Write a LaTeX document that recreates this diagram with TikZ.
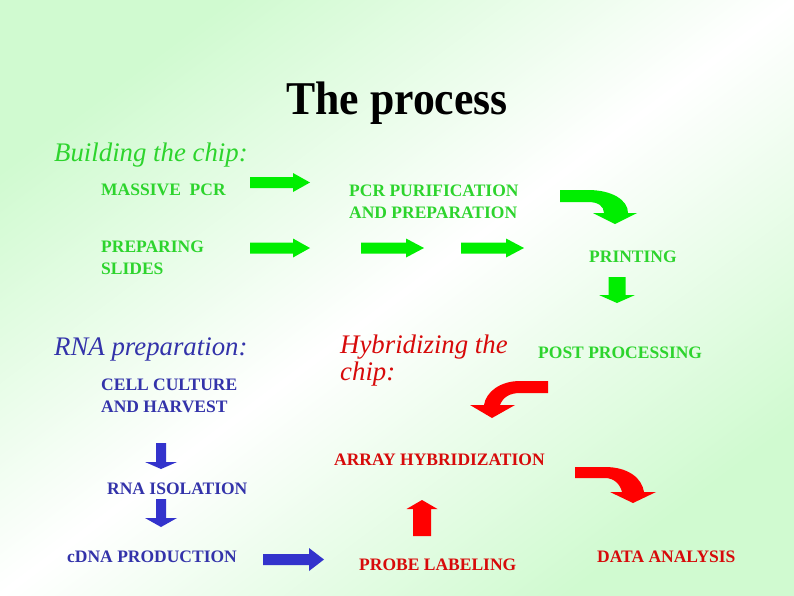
\documentclass[tikz,border=0pt]{standalone}
\usepackage{fontspec}
\setmainfont{Liberation Serif}
\definecolor{bggreen}{RGB}{208,250,208}
\definecolor{txtgreen}{RGB}{45,212,45}
\definecolor{arrgreen}{RGB}{0,238,0}
\definecolor{txtred}{RGB}{215,10,10}
\definecolor{arrred}{RGB}{255,0,0}
\definecolor{txtblue}{RGB}{51,51,170}
\definecolor{arrblue}{RGB}{51,51,204}
\begin{document}
\begin{tikzpicture}[x=1pt,y=-1pt,
  lbl/.style={font=\bfseries\fontsize{17.5}{22}\selectfont, inner sep=0pt, anchor=base west},
  headtxt/.style={font=\itshape\fontsize{26.8}{32}\selectfont, inner sep=0pt, anchor=base west},
  garrow/.style={fill=arrgreen},
  rarrow/.style={fill=arrred},
  barrow/.style={fill=arrblue}]
\useasboundingbox (0,0) rectangle (794,595);
\shade[shading=axis, top color=bggreen, bottom color=bggreen, middle color=white, shading angle=36.87] (0,0) rectangle (794,595);

% title
\node[inner sep=0pt, anchor=base, font=\bfseries\fontsize{47}{50}\selectfont] (title) at (397,114) {\scalebox{0.93}[1]{The process}};

% building the chip (green)
\node[headtxt, txtgreen] (build) at (54,161.7) {Building the chip:};
\node[lbl, txtgreen] (massive) at (101,195.7) {MASSIVE\ \ PCR};
\node[lbl, txtgreen] (pcrA) at (349,196) {PCR PURIFICATION};
\node[lbl, txtgreen] (pcrB) at (349,218) {AND PREPARATION};
\node[lbl, txtgreen] (prepA) at (101,252) {PREPARING};
\node[lbl, txtgreen] (prepB) at (101,274) {SLIDES};
\node[lbl, txtgreen] (printing) at (589,262) {PRINTING};
\node[lbl, txtgreen] (post) at (538,358) {POST PROCESSING};

% RNA preparation (blue)
\node[headtxt, txtblue] (rnaprep) at (54,355) {RNA preparation:};
\node[lbl, txtblue] (cellA) at (101,390) {CELL CULTURE};
\node[lbl, txtblue] (cellB) at (101,412) {AND HARVEST};
\node[lbl, txtblue] (rnaiso) at (107,494) {RNA ISOLATION};
\node[lbl, txtblue] (cdna) at (67,562) {cDNA PRODUCTION};

% hybridizing (red)
\node[headtxt, txtred] (hybA) at (340,353) {Hybridizing the};
\node[headtxt, txtred] (hybB) at (340,380) {chip:};
\node[lbl, txtred] (array) at (334,465) {ARRAY HYBRIDIZATION};
\node[lbl, txtred] (probe) at (359,570) {PROBE LABELING};
\node[lbl, txtred] (data) at (597,562) {DATA ANALYSIS};

% green straight arrows
\fill[garrow] (250,177) -- (293,177) -- (293,173) -- (310,182.5) -- (293,192) -- (293,188) -- (250,188) -- cycle;
\fill[garrow] (250,242.5) -- (293,242.5) -- (293,238.5) -- (310,248) -- (293,257.5) -- (293,253.5) -- (250,253.5) -- cycle;
\fill[garrow] (361,242.5) -- (406,242.5) -- (406,238.5) -- (424,248) -- (406,257.5) -- (406,253.5) -- (361,253.5) -- cycle;
\fill[garrow] (461,242.5) -- (506,242.5) -- (506,238.5) -- (524,248) -- (506,257.5) -- (506,253.5) -- (461,253.5) -- cycle;
% green bent arrow
\fill[garrow] (560,190) -- (588,190) .. controls (612,190) and (628,200) .. (628,213) -- (637,213) -- (615,224) -- (593,213) -- (604,213) .. controls (604,206) and (598,202) .. (588,202) -- (560,202) -- cycle;
% green down arrow
\fill[garrow] (608.5,277) -- (625.5,277) -- (625.5,295) -- (635,295) -- (617,303) -- (599,295) -- (608.5,295) -- cycle;

% red arrows
\fill[rarrow] (548,381) -- (520,381) .. controls (500,381) and (486,392) .. (484,405) -- (470,405) -- (492,418) -- (515,405) -- (500,405) .. controls (503,397) and (510,393) .. (520,393) -- (548,393) -- cycle;
\fill[rarrow] (575,467) -- (605,467) .. controls (628,467) and (642,478) .. (644,492) -- (656,492) -- (633,503) -- (610,492) -- (622,492) .. controls (620,484) and (614,478) .. (605,478) -- (575,478) -- cycle;
\fill[rarrow] (413,536) -- (431,536) -- (431,509) -- (437.5,509) -- (422,500) -- (406.5,509) -- (413,509) -- cycle;

% blue arrows
\fill[barrow] (156,443) -- (166,443) -- (166,462) -- (177,462) -- (161,469) -- (145,462) -- (156,462) -- cycle;
\fill[barrow] (156,499) -- (166,499) -- (166,518) -- (177,518) -- (161,527) -- (145,518) -- (156,518) -- cycle;
\fill[barrow] (263,554) -- (309,554) -- (309,548) -- (324,559.5) -- (309,571) -- (309,565) -- (263,565) -- cycle;
\end{tikzpicture}
\end{document}
